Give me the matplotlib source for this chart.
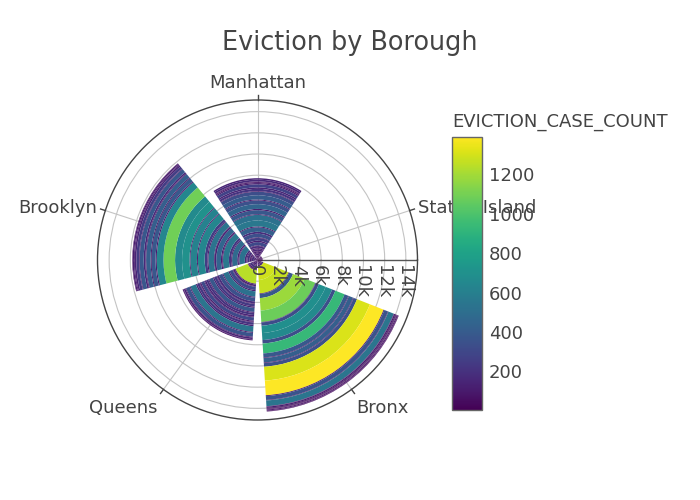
import matplotlib
matplotlib.use("Agg")
import matplotlib.pyplot as plt
import numpy as np
from matplotlib.colors import Normalize
from matplotlib.cm import ScalarMappable

# ---- data (segments stacked from the centre outwards) ----
boroughs = ["Manhattan", "Brooklyn", "Queens", "Bronx", "Staten Island"]

manhattan = [30, 70, 45, 110, 25, 90, 60, 140, 35, 80, 120, 55, 150, 95, 40, 170, 65,
             310, 130, 260, 60, 340, 180, 420, 90, 560, 520, 70, 380, 120, 450, 350,
             90, 400, 330, 60, 210, 150, 280, 120, 90, 60, 170, 140]
brooklyn = [40, 90, 60, 130, 30, 180, 70, 110, 50, 200, 80, 160,
            520, 60, 140, 480, 90, 210, 560, 70, 120, 450, 150, 60, 530, 100, 250,
            640, 90, 620, 80, 700, 660, 1090, 640, 110, 380,
            90, 420, 70, 160, 380, 60, 250, 150, 80, 120, 40]
queens = [60, 120, 40, 90, 150, 30, 80, 200, 110, 70, 50, 1240,
          80, 150, 60, 310, 120, 520, 90, 350, 180, 60, 240, 130, 380, 90, 200,
          150, 70, 310, 110, 60, 220, 140, 540, 90, 360, 70, 150, 40, 90]
bronx = [45, 30, 70, 25, 60, 40, 110, 80, 140, 1290, 1270, 60, 380, 1180, 1080,
         40, 320, 690, 660, 330, 930, 380, 60, 420, 60, 340, 1310, 1390,
         80, 360, 50, 540, 40, 120, 70, 55, 30, 90, 60, 40]
staten_island = [20, 35, 4, 50, 25, 40, 30, 60, 45, 80, 35, 55]

series = [manhattan, brooklyn, queens, bronx, staten_island]
radial_ticks = [0, 2000, 4000, 6000, 8000, 10000, 12000, 14000]
radial_labels = ["0", "2k", "4k", "6k", "8k", "10k", "12k", "14k"]
cbar_ticks = [200, 400, 600, 800, 1000, 1200]

TXT = "#444444"
FS = 13

all_vals = np.concatenate([np.array(s, float) for s in series])
norm = Normalize(vmin=all_vals.min(), vmax=all_vals.max())
cmap = plt.get_cmap("viridis")

fig = plt.figure(figsize=(7, 5), dpi=100)
ax = fig.add_axes([97.5 / 700, 80 / 500, 320 / 700, 320 / 500], projection="polar")

thetas = np.deg2rad([(90 + 72 * i) % 360 for i in range(len(boroughs))])
width = np.deg2rad(65)

for th, vals in zip(thetas, series):
    vals = np.array(vals, float)
    bottoms = np.concatenate([[0], np.cumsum(vals)[:-1]])
    ax.bar(np.full(len(vals), th), vals, width=width, bottom=bottoms,
           color=cmap(norm(vals)), edgecolor="none", linewidth=0,
           align="center", zorder=3)

totals = [sum(s) for s in series]
RMAX = max(totals) * 1.054

ax.set_yticks(radial_ticks[1:])
ax.set_yticklabels([])
ax.set_xticks(thetas)
ax.set_xticklabels([])
ax.tick_params(axis="both", length=0)
ax.grid(True, color="#c4c4c4", linewidth=0.8)
ax.set_axisbelow(True)
ax.spines["polar"].set_color(TXT)
ax.spines["polar"].set_linewidth(1.0)

# radial axis line at angle 0
ax.plot([0, 0], [0, RMAX], color="#555555", linewidth=1.0, zorder=2)

# radial tick labels (rotated)
for v, lab in zip(radial_ticks, radial_labels):
    ax.annotate(lab, xy=(0, v), xytext=(-2, -5), textcoords="offset pixels",
                rotation=-90, rotation_mode="anchor", ha="left", va="center",
                fontsize=FS, color=TXT, zorder=5)

# angular ticks (outside)
r_out = RMAX * 165 / 160
for th in thetas:
    ax.plot([th, th], [RMAX, r_out], color=TXT, linewidth=1.0, clip_on=False)

ax.set_xlim(0, 2 * np.pi)
ax.set_ylim(0, RMAX)

# angular labels
label_cfg = {
    "Manhattan": dict(off=(0, 12), ha="center", va="baseline"),
    "Brooklyn": dict(off=(-8, 3), ha="right", va="center"),
    "Queens": dict(off=(-6, -10), ha="right", va="top"),
    "Bronx": dict(off=(5, -10), ha="left", va="top"),
    "Staten Island": dict(off=(8, 3), ha="left", va="center"),
}
for th, name in zip(thetas, boroughs):
    cfg = label_cfg[name]
    ax.annotate(name, xy=(th, RMAX), xytext=cfg["off"], textcoords="offset pixels",
                ha=cfg["ha"], va=cfg["va"], fontsize=FS, color=TXT,
                annotation_clip=False, zorder=6)

# title
fig.text(350 / 700, 1 - 50 / 500, "Eviction by Borough", ha="center", va="baseline",
         fontsize=18.4, color=TXT)

# colorbar
cax = fig.add_axes([452 / 700, 90 / 500, 30 / 700, 273 / 500])
sm = ScalarMappable(norm=norm, cmap=cmap)
cb = fig.colorbar(sm, cax=cax)
cb.set_ticks(cbar_ticks)
cb.ax.tick_params(length=0, labelsize=FS, labelcolor=TXT, pad=5)
cb.outline.set_edgecolor("#666666")
cb.outline.set_linewidth(1.0)
fig.text(452 / 700, 1 - 127 / 500, "EVICTION_CASE_COUNT", ha="left", va="baseline",
         fontsize=FS, color=TXT)

fig.savefig("out.png", dpi=100)
